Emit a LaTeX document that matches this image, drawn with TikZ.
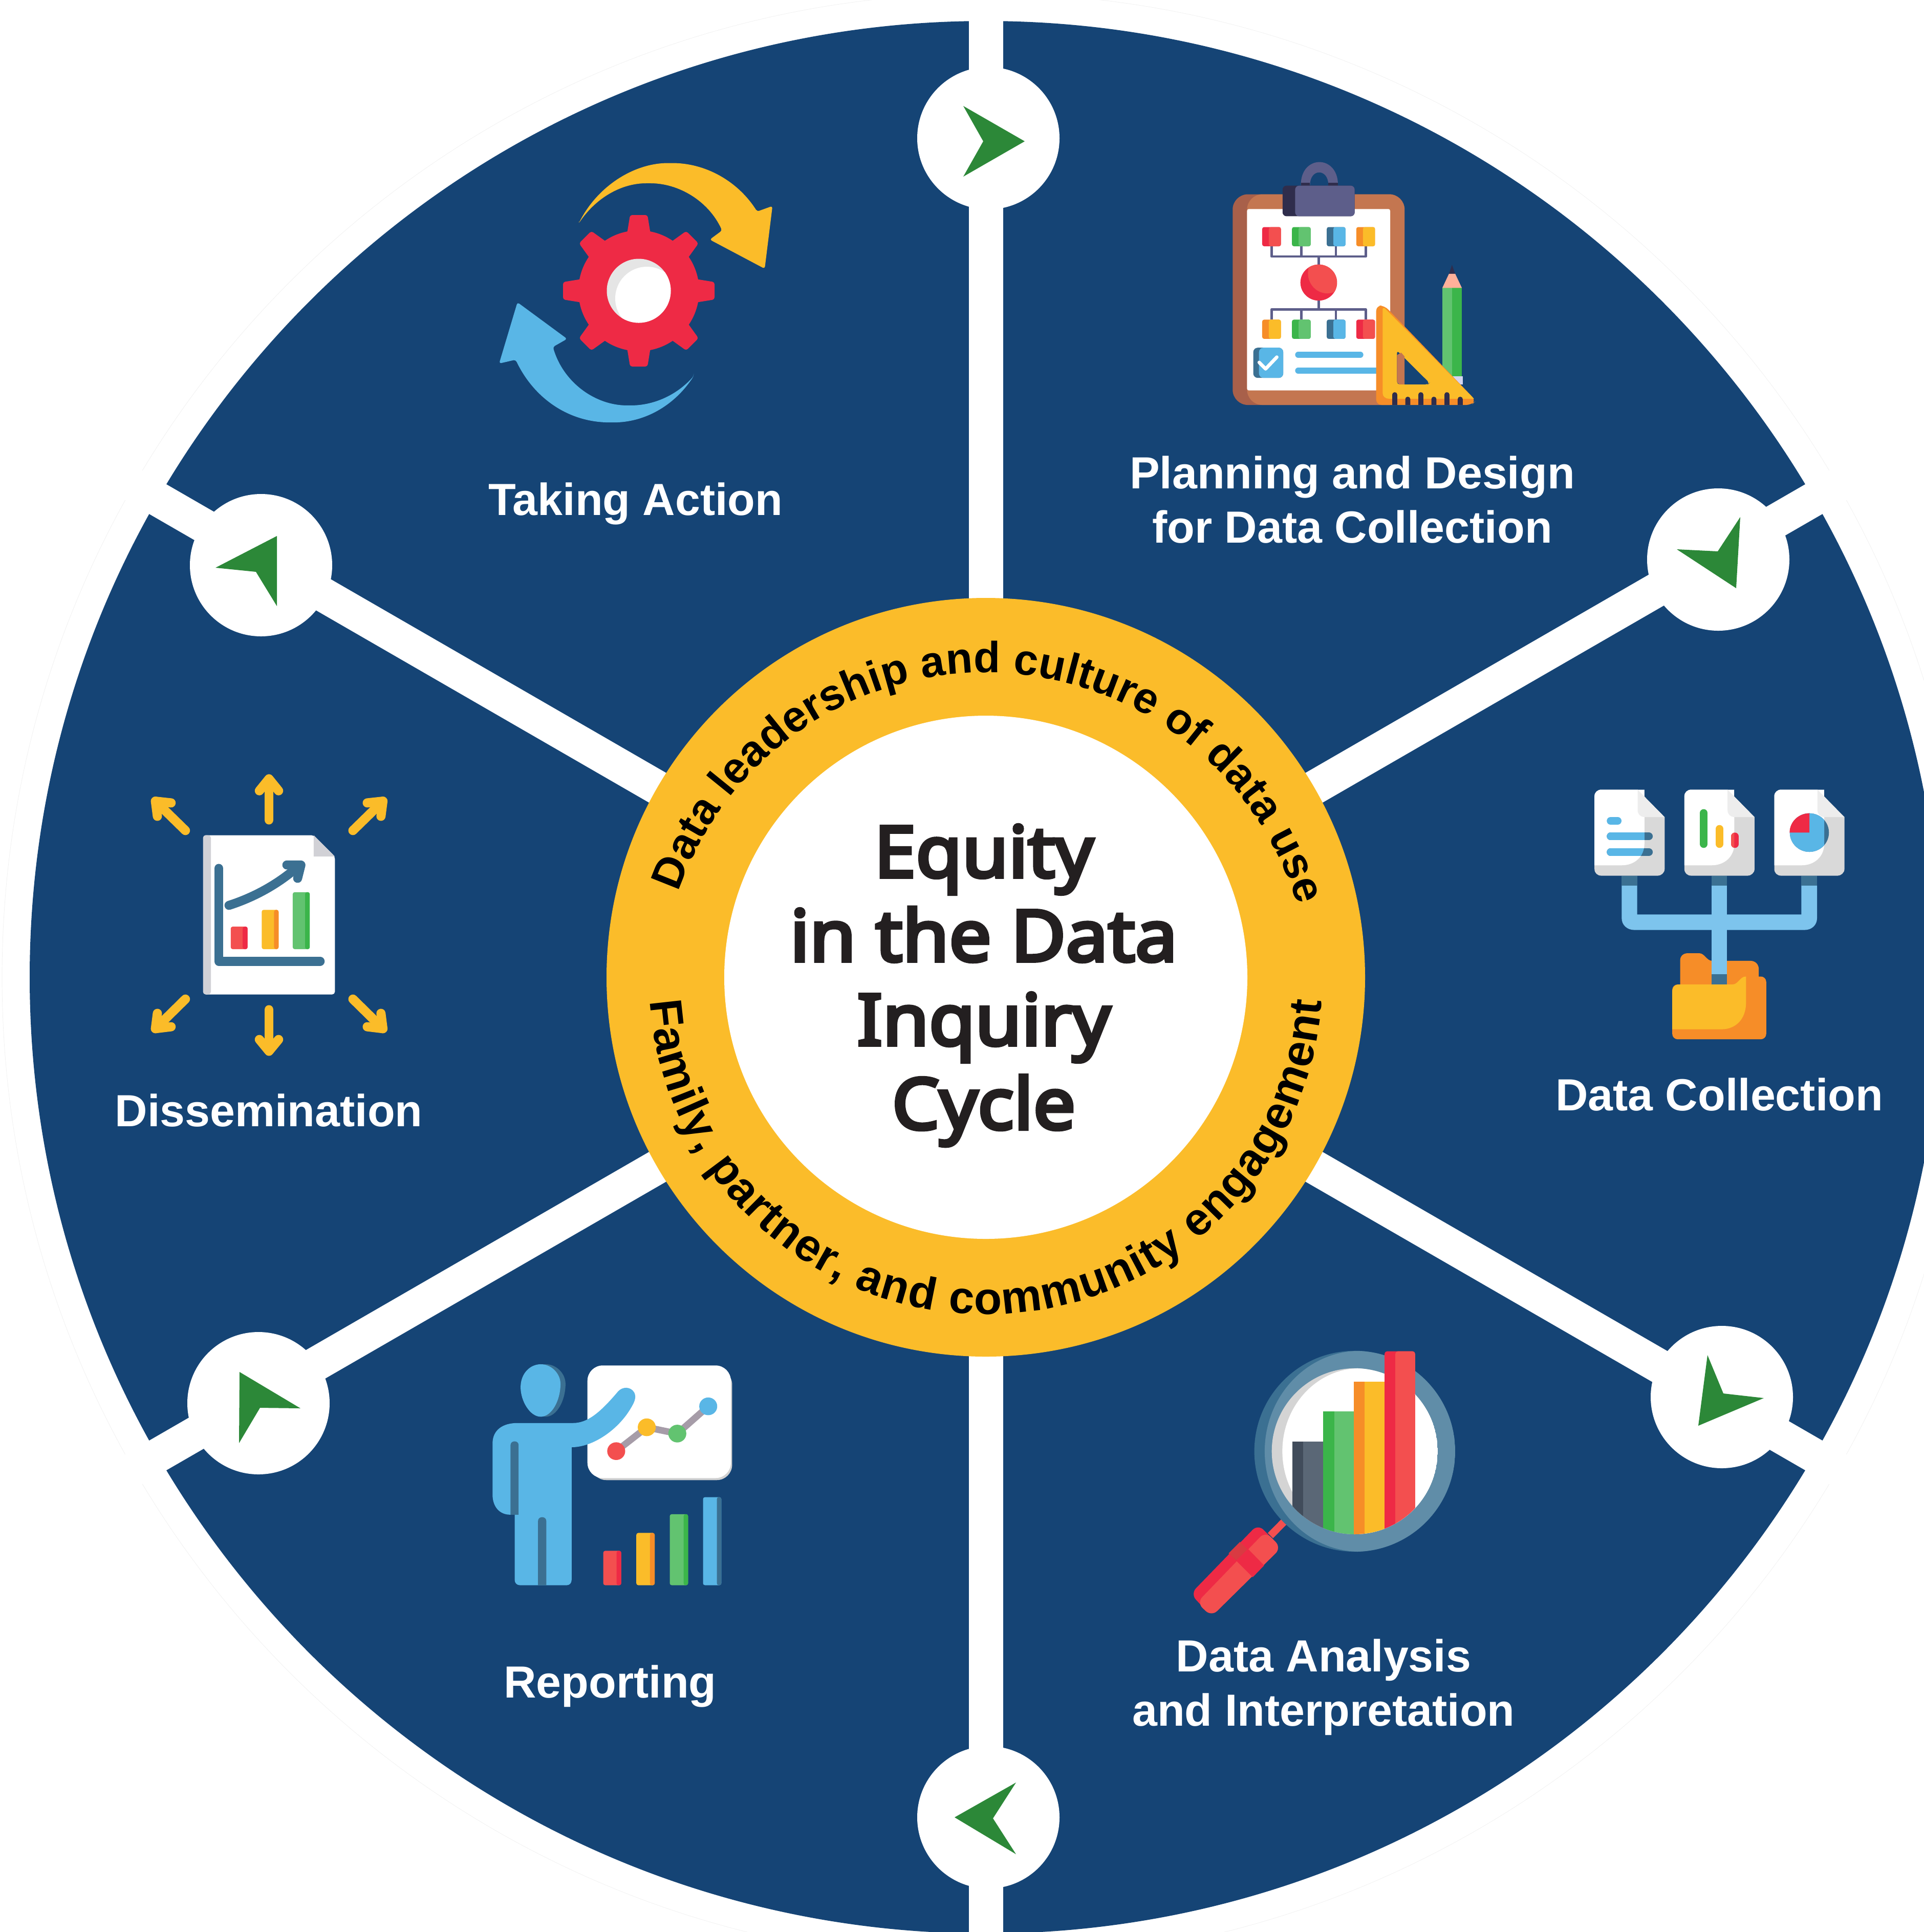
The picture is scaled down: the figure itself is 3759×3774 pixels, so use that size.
\documentclass[tikz,border=0pt]{standalone}
\usepackage{fontspec}
\setmainfont{Liberation Sans}
\newfontfamily\titlefam[FakeBold=5,FakeStretch=1.06]{Noto Sans}
\usetikzlibrary{decorations.text}
\definecolor{navy}{HTML}{154475}
\definecolor{ring}{HTML}{FBBC2A}
\definecolor{leaf}{HTML}{2C8838}
\definecolor{redD}{HTML}{EE2A45}
\definecolor{redL}{HTML}{F34F4F}
\definecolor{grnD}{HTML}{3BB54A}
\definecolor{grnL}{HTML}{62C370}
\definecolor{bluL}{HTML}{59B6E6}
\definecolor{bluD}{HTML}{3B7092}
\definecolor{pipe}{HTML}{7DC4ED}
\definecolor{ornD}{HTML}{F68D28}
\definecolor{ylwL}{HTML}{FBBC29}
\definecolor{purL}{HTML}{5D5E8A}
\definecolor{purD}{HTML}{2F2D4C}
\definecolor{brnL}{HTML}{C47650}
\definecolor{brnD}{HTML}{A8604A}
\definecolor{inkT}{HTML}{231F20}
\definecolor{lensL}{HTML}{608DA8}
\definecolor{slateD}{HTML}{414C5B}
\definecolor{slateL}{HTML}{5A6776}
\definecolor{peach}{HTML}{FFB09A}
\definecolor{lav}{HTML}{D5D5F0}
\definecolor{sheet}{HTML}{D1D1D6}
\definecolor{trend}{HTML}{A69CA8}
\definecolor{bandX}{HTML}{D93A42}
\newcommand{\arcfont}{\fontsize{24.2}{30}\selectfont\bfseries}
\newcommand{\arcfontb}{\fontsize{25.3}{30}\selectfont\bfseries}
% two-tone rounded block: x1 y1 xm x2 y2 left right
\newcommand{\twotone}[7]{%
  \fill[#6,rounded corners=1.1pt] (#1,#2) rectangle (#4,#5);
  \fill[#7,rounded corners=1.1pt] (#3,#2) rectangle (#4,#5);}
\newcommand{\greenarrow}[8]{\fill[leaf] (#1,#2) -- (#3,#4) -- (#5,#6) -- (#7,#8) -- cycle;}
\newcommand{\tickmark}[2]{\fill[purD] (#1-11,1412) -- (#1-11,#2+12) .. controls (#1-11,#2-4) and (#1+11,#2-4) .. (#1+11,#2+12) -- (#1+11,1412) -- cycle;}
\newcommand{\docfront}{(157,150) .. controls (157,130) and (170,115) .. (190,115) -- (392,115) -- (392,400) .. controls (392,470) and (345,515) .. (285,515) -- (157,515) -- cycle}
\newcommand{\docbase}{%
  \fill[white!85!black] (157,150) .. controls (157,130) and (170,115) .. (190,115) -- (360,115) -- (487,260) -- (487,535) .. controls (487,555) and (470,570) .. (455,570) -- (190,570) .. controls (170,570) and (157,555) .. (157,535) -- cycle;
  \fill[white] \docfront;
  \fill[navy] (392,115) -- (487,115) -- (487,260) -- (392,151) -- cycle;
  \fill[white!93!black] (360,115) -- (487,260) -- (392,260) .. controls (372,258) and (360,245) .. (360,222) -- cycle;}
\tikzset{
  spoke/.style={white,line width=19.06pt},
  hub/.style={white},
  label/.style={text=white,inner sep=0pt,align=center,font=\fontsize{25}{30.2}\selectfont\bfseries},
  yarrow/.style={draw=ylwL,line width=5.1pt,line cap=round,line join=round},
  chart/.style={draw=bluD,line width=5pt,line cap=round,line join=round},
  wire/.style={draw=purL,line width=1.35pt,line join=round},
}
\begin{document}
\begin{tikzpicture}[x=0.01cm,y=-0.01cm]
\useasboundingbox (0,0) rectangle (3759,3774);
\fill[white] (0,0) rectangle (3759,3774);
\clip (0,0) rectangle (3759,3774);
\coordinate (ctr) at (1926,1909);
% disc
\draw[white!94!black,line width=0.2pt] (ctr) circle[radius=1922];
\fill[navy] (ctr) circle[radius=1868];
% spokes
\foreach \a in {90,30,-30,-90,150,210}
  \draw[spoke] (ctr) -- ++(\a:1925);
% hubs
\foreach \p in {(1931,270),(3357,1093),(3364,2729),(1931,3550),(505,2741),(510,1104)}
  \fill[hub] \p circle[radius=139];
% arrowheads
\greenarrow{1882}{207}{2002}{276}{1882}{345}{1921}{276}
\greenarrow{3400}{1010}{3392}{1149}{3276}{1073}{3356}{1077}
\greenarrow{3446}{2731}{3318}{2785}{3336}{2647}{3367}{2722}
\greenarrow{1985}{3482}{1865}{3550}{1985}{3622}{1940}{3552}
\greenarrow{468}{2680}{587}{2751}{508}{2750}{467}{2819}
\greenarrow{541}{1047}{541}{1184}{500}{1117}{421}{1109}
% ring
\fill[ring] (ctr) circle[radius=741];
\fill[white] (ctr) circle[radius=511];
% curved texts
\begin{scope}[shift={(1926,1949)},y=0.01cm]
  \path[decorate,decoration={text along path,text align={fit to path},
    text={|\arcfont|Data leadership and culture of data use}}]
    (161:635) arc[start angle=161,end angle=16.5,radius=635];
\end{scope}
\begin{scope}[shift={(1926,1909)},y=0.01cm]
  \path[decorate,decoration={text along path,text align={fit to path},
    text={|\arcfontb|Family, partner, and community engagement}}]
    (184:658) arc[start angle=184,end angle=356,radius=658];
\end{scope}
% title
\node[inner sep=0pt,align=center,text=inkT,font=\titlefam\fontsize{39.4}{46.66}\selectfont] (title) at (1922,1925) {Equity\\in the Data\\Inquiry\\Cycle};
% labels
\node[label] (planning) at (2642,976) {Planning and Design\\for Data Collection};
\node[label] (action) at (1242,984) {Taking Action};
\node[label] (dissem) at (525,2169) {Dissemination};
\node[label] (collect) at (3359,2138) {Data Collection};
\node[label] (analysis) at (2586,3296) {Data Analysis\\and Interpretation};
\node[label] (report) at (1192,3294) {Reporting};

% ===== clipboard icon
\begin{scope}[shift={(2300,250)},x=0.004464cm,y=-0.003827cm]
  % pencil
  \fill[grnL] (1158,815) rectangle (1200,1270);
  \fill[grnD] (1200,815) rectangle (1243,1270);
  \fill[lav] (1158,1265) rectangle (1248,1308);
  \fill[peach] (1158,815) -- (1187,743) -- (1214,743) -- (1243,815) -- cycle;
  \fill[purD] (1187,743) -- (1200,698) -- (1214,743) -- cycle;
  % board
  \fill[brnD,rounded corners=8.5pt] (242,338) rectangle (993,1412);
  \fill[brnL,rounded corners=8.5pt] (305,338) rectangle (993,1412);
  \fill[white,rounded corners=1pt] (305,413) rectangle (930,1338);
  % handle and clip
  \fill[purL] (540,290) .. controls (540,135) and (702,135) .. (702,290) -- (660,290) .. controls (660,205) and (580,205) .. (580,290) -- cycle;
  \fill[purD] (540,280) rectangle (580,296);
  \fill[purD] (660,280) rectangle (702,296);
  \fill[purD,rounded corners=2.2pt] (460,294) rectangle (775,450);
  \fill[purL,rounded corners=2.2pt] (515,294) rectangle (775,450);
  % wires
  \draw[wire] (412,603) -- (412,655) -- (823,655) -- (823,603);
  \draw[wire] (542,603) -- (542,655);
  \draw[wire] (693,603) -- (693,655);
  \draw[wire] (618,655) -- (618,700);
  \draw[wire] (412,977) -- (412,925) -- (823,925) -- (823,977);
  \draw[wire] (542,977) -- (542,925);
  \draw[wire] (693,977) -- (693,925);
  \draw[wire] (618,880) -- (618,925);
  % chips
  \twotone{371}{505}{400}{453}{603}{redD}{redL}
  \twotone{501}{505}{530}{583}{603}{grnD}{grnL}
  \twotone{653}{505}{682}{735}{603}{bluD}{bluL}
  \twotone{782}{505}{811}{864}{603}{ornD}{ylwL}
  \twotone{371}{977}{400}{453}{1075}{ornD}{ylwL}
  \twotone{501}{977}{530}{583}{1075}{grnD}{grnL}
  \twotone{653}{977}{682}{735}{1075}{bluD}{bluL}
  \twotone{782}{977}{811}{864}{1075}{redD}{redL}
  % node ball
  \fill[redD] (618,788) ellipse[x radius=80,y radius=92];
  \begin{scope}
    \clip (618,788) ellipse[x radius=80,y radius=92];
    \fill[redL] (655,740) ellipse[x radius=84,y radius=103];
  \end{scope}
  % check box
  \fill[bluD,rounded corners=2.5pt] (332,1120) rectangle (463,1274);
  \fill[bluL,rounded corners=2.5pt] (357,1120) rectangle (463,1274);
  \draw[white,line width=1.9pt,line cap=round,line join=round] (358,1195) -- (386,1228) -- (435,1168);
  \draw[bluL,line width=3.3pt,line cap=round] (528,1156) -- (800,1156);
  \draw[bluL,line width=3.3pt,line cap=round] (528,1237) -- (880,1237);
  % set square
  \fill[ornD,rounded corners=3pt] (869,905) -- (905,905) -- (1305,1390) -- (1285,1412) -- (869,1412) -- cycle;
  \fill[ylwL] (897,925) .. controls (897,915) and (905,915) .. (912,925) -- (1296,1380) -- (925,1380) .. controls (908,1380) and (897,1368) .. (897,1350) -- cycle;
  \fill[navy,rounded corners=1.5pt] (960,1135) -- (1102,1300) -- (1095,1307) -- (960,1307) -- cycle;
  \fill[brnL] (960,1158) -- (978,1145) -- (993,1165) -- (993,1307) -- (970,1307) -- (960,1295) -- cycle;
  \tickmark{950}{1347}
  \tickmark{1007}{1370}
  \tickmark{1064}{1347}
  \tickmark{1121}{1370}
  \tickmark{1178}{1347}
  \tickmark{1236}{1370}
\end{scope}

% ===== gear icon
\begin{scope}[shift={(900,250)},x=0.004464cm,y=-0.004145cm]
  \fill[ylwL,rounded corners=1.2pt] (515,450) .. controls (600,270) and (760,165) .. (915,165) .. controls (1070,165) and (1210,250) .. (1295,393) -- (1362,367) -- (1328,662) -- (1088,525) -- (1142,482) .. controls (1080,340) and (950,260) .. (820,260) .. controls (700,260) and (590,330) .. (515,450) -- cycle;
  \fill[bluL,rounded corners=1.2pt] (1018,1167) .. controls (930,1310) and (800,1385) .. (660,1385) .. controls (470,1385) and (320,1270) .. (240,1090) -- (168,1108) -- (248,820) -- (465,992) -- (403,1030) .. controls (450,1200) and (590,1305) .. (735,1305) .. controls (840,1305) and (940,1260) .. (1018,1167) -- cycle;
\end{scope}
\begin{scope}[shift={(1248,568)},y=0.01cm]
  \fill[redD] (0,0) circle[radius=118];
  \foreach \a in {0,45,...,315}
    \fill[redD,rotate=\a,rounded corners=1.2pt] (105,-24) -- (148,-17) -- (148,17) -- (105,24) -- cycle;
  \fill[white!90!black] (0,0) circle[radius=62.5];
  \begin{scope}
    \clip (0,0) circle[radius=62.5];
    \fill[white] (16,-15) circle[radius=62];
  \end{scope}
\end{scope}

% ===== dissemination icon
\begin{scope}[shift={(250,1450)},x=0.003827cm,y=-0.004145cm]
  \fill[white,rounded corners=1.5pt] (383,437) -- (945,437) -- (1055,537) -- (1055,1186) -- (383,1186) -- cycle;
  \fill[sheet,rounded corners=1.5pt] (383,437) rectangle (423,1186);
  \fill[sheet] (947,437) -- (1055,537) -- (947,537) -- cycle;
  \draw[chart] (463,593) -- (463,1030) -- (980,1030);
  \draw[chart] (515,767) .. controls (640,730) and (760,670) .. (860,590);
  \draw[chart] (810,577) -- (882,577) -- (865,640);
  \twotone{524}{867}{585}{610}{973}{redL}{redD}
  \twotone{682}{788}{745}{768}{973}{ylwL}{ornD}
  \twotone{840}{705}{903}{927}{973}{grnL}{grnD}
  % radiating arrows
  \draw[yarrow] (719,365) -- (719,172);
  \draw[yarrow] (670,228) -- (719,172) -- (768,228);
  \draw[yarrow] (719,1258) -- (719,1453);
  \draw[yarrow] (670,1398) -- (719,1453) -- (768,1398);
  \draw[yarrow] (293,415) -- (140,277);
  \draw[yarrow] (150,348) -- (140,277) -- (220,285);
  \draw[yarrow] (1147,415) -- (1300,277);
  \draw[yarrow] (1220,285) -- (1300,277) -- (1290,348);
  \draw[yarrow] (293,1208) -- (140,1347);
  \draw[yarrow] (150,1275) -- (140,1347) -- (220,1338);
  \draw[yarrow] (1147,1208) -- (1300,1347);
  \draw[yarrow] (1220,1338) -- (1300,1347) -- (1290,1275);
\end{scope}

% ===== data collection icon
\begin{scope}[shift={(3050,1500)},x=0.004145cm,y=-0.003699cm]
  % folder back
  \fill[ornD] (560,1200) -- (560,1018) .. controls (560,995) and (575,980) .. (595,980) -- (650,980) .. controls (675,980) and (685,1020) .. (710,1020) -- (890,1020) .. controls (915,1020) and (930,1040) .. (930,1065) -- (930,1200) -- cycle;
  % pipes
  \fill[pipe] (285,622) -- (285,795) .. controls (285,830) and (310,857) .. (345,857) -- (1145,857) .. controls (1180,857) and (1204,830) .. (1204,795) -- (1204,622) -- (1130,622) -- (1130,775) -- (358,775) -- (358,622) -- cycle;
  \fill[pipe] (708,622) rectangle (781,1092);
  \fill[bluD] (285,570) rectangle (358,622);
  \fill[bluD] (708,570) rectangle (781,622);
  \fill[bluD] (1130,570) rectangle (1204,622);
  \fill[bluD] (708,1092) rectangle (781,1145);
  % folder front
  \fill[ornD,rounded corners=3pt] (523,1145) -- (850,1145) -- (850,1103) -- (965,1103) -- (965,1435) -- (523,1435) -- cycle;
  \fill[ylwL] (523,1182) .. controls (523,1160) and (535,1145) .. (555,1145) -- (805,1145) .. controls (835,1145) and (840,1103) .. (870,1103) -- (870,1240) .. controls (870,1330) and (820,1382) .. (755,1382) -- (523,1382) -- cycle;
  % doc 1
  \docbase
  \draw[bluD,line width=4.3pt,line cap=round] (233,362) -- (413,362);
  \draw[bluD,line width=4.3pt,line cap=round] (233,445) -- (413,445);
  \begin{scope}
    \clip \docfront;
    \draw[bluL,line width=4.3pt,line cap=round] (233,280) -- (266,280);
    \draw[bluL,line width=4.3pt,line cap=round] (233,362) -- (413,362);
    \draw[bluL,line width=4.3pt,line cap=round] (233,445) -- (413,445);
  \end{scope}
  % doc 2
  \begin{scope}[shift={(423,0)}]
    \docbase
    \draw[grnD,line width=4.2pt,line cap=round] (248,238) -- (248,403);
    \draw[ylwL,line width=4.2pt,line cap=round] (322,322) -- (322,403);
    \draw[redD,line width=4.2pt,line cap=round] (395,362) -- (395,403);
    \begin{scope}
      \clip \docfront;
      \draw[redL,line width=4.2pt,line cap=round] (395,362) -- (395,403);
    \end{scope}
  \end{scope}
  % doc 3
  \begin{scope}[shift={(846,0)}]
    \docbase
    \fill[bluD] (322,342) ellipse[x radius=92,y radius=102];
    \begin{scope}
      \clip \docfront;
      \fill[bluL] (322,342) ellipse[x radius=92,y radius=102];
    \end{scope}
    \fill[redD] (229,342) .. controls (229,285) and (271,240) .. (322,240) -- (322,342) -- cycle;
  \end{scope}
\end{scope}

% ===== magnifier icon
\begin{scope}[shift={(2300,2600)},x=0.003827cm,y=-0.003827cm]
  \draw[redL,line width=4.1pt] (545,972) -- (475,1043);
  \fill[redD,rounded corners=4.3pt] (412,985) -- (530,1105) -- (175,1455) -- (68,1340) -- cycle;
  \fill[redL,rounded corners=4.3pt] (450,1022) -- (530,1105) -- (175,1455) -- (100,1385) -- cycle;
  \fill[redD] (360,1110) -- (443,1195) -- (385,1255) -- (300,1170) -- cycle;
  \fill[bandX] (320,1075) -- (358,1113) -- (300,1170) -- (262,1133) -- cycle;
  \fill[bluD] (905,613) circle[radius=512];
  \begin{scope}
    \clip (905,613) circle[radius=512];
    \fill[lensL] (932,613) ellipse[x radius=486,y radius=512];
  \end{scope}
  \begin{scope}
    \clip (905,613) circle[radius=423];
    \fill[white!83!black] (905,613) circle[radius=423];
    \fill[white] (932,613) ellipse[x radius=396,y radius=423];
    \fill[slateD] (587,563) rectangle (642,1100);
    \fill[slateL] (642,563) rectangle (744,1100);
    \fill[grnD] (744,410) rectangle (800,1100);
    \fill[grnL] (800,410) rectangle (900,1100);
    \fill[ornD] (900,257) rectangle (955,1100);
    \fill[ylwL] (955,257) rectangle (1057,1100);
    \fill[redD] (1057,103) rectangle (1112,1100);
    \fill[redL] (1112,103) rectangle (1213,1100);
  \end{scope}
  \fill[redD,rounded corners=1.5pt] (1057,103) rectangle (1213,300);
  \fill[redL,rounded corners=1.5pt] (1112,103) rectangle (1213,300);
  \fill[redD] (1057,250) rectangle (1112,320);
  \fill[redL] (1112,250) rectangle (1213,320);
\end{scope}

% ===== reporting icon
\begin{scope}[shift={(930,2620)},x=0.003508cm,y=-0.003333cm]
  \fill[white!82!black,rounded corners=8.5pt] (640,165) rectangle (1425,815);
  \fill[white,rounded corners=8.5pt] (620,142) rectangle (1418,803);
  \draw[trend,line width=3.7pt,line join=round] (780,645) -- (950,505) -- (1120,542) -- (1292,382);
  \fill[redL] (780,645) ellipse[x radius=50,y radius=52];
  \fill[ylwL] (950,505) ellipse[x radius=50,y radius=52];
  \fill[grnL] (1120,542) ellipse[x radius=50,y radius=52];
  \fill[bluL] (1292,382) ellipse[x radius=50,y radius=52];
  % person
  \fill[bluD] (388,135) .. controls (328,135) and (276,190) .. (276,270) .. controls (276,350) and (328,443) .. (388,443) .. controls (448,443) and (498,350) .. (498,250) .. controls (498,190) and (448,135) .. (388,135) -- cycle;
  \fill[bluL] (360,135) .. controls (300,135) and (248,190) .. (248,270) .. controls (248,350) and (300,443) .. (360,443) .. controls (420,443) and (470,350) .. (470,250) .. controls (470,190) and (420,135) .. (360,135) -- cycle;
  \fill[bluL] (215,1018) -- (190,1018) .. controls (130,1018) and (92,970) .. (92,900) -- (92,600) .. controls (92,520) and (150,480) .. (230,480) -- (540,480) .. controls (620,480) and (690,420) .. (790,295) .. controls (815,265) and (860,265) .. (880,300) .. controls (895,330) and (880,360) .. (860,395) .. controls (790,520) and (650,622) .. (532,622) -- (532,1400) .. controls (532,1420) and (520,1432) .. (505,1432) -- (245,1432) .. controls (228,1432) and (215,1420) .. (215,1400) -- cycle;
  \fill[bluD] (192,1018) -- (192,610) .. controls (192,580) and (237,580) .. (237,610) -- (237,1018) -- cycle;
  \fill[bluD] (345,1432) -- (345,1055) .. controls (345,1025) and (391,1025) .. (391,1055) -- (391,1432) -- cycle;
  % bars
  \twotone{708}{1230}{782}{808}{1432}{redL}{redD}
  \twotone{892}{1125}{968}{994}{1432}{ylwL}{ornD}
  \twotone{1078}{1015}{1155}{1180}{1432}{grnL}{grnD}
  \twotone{1263}{915}{1340}{1365}{1432}{bluL}{bluD}
\end{scope}
\end{tikzpicture}
\end{document}
